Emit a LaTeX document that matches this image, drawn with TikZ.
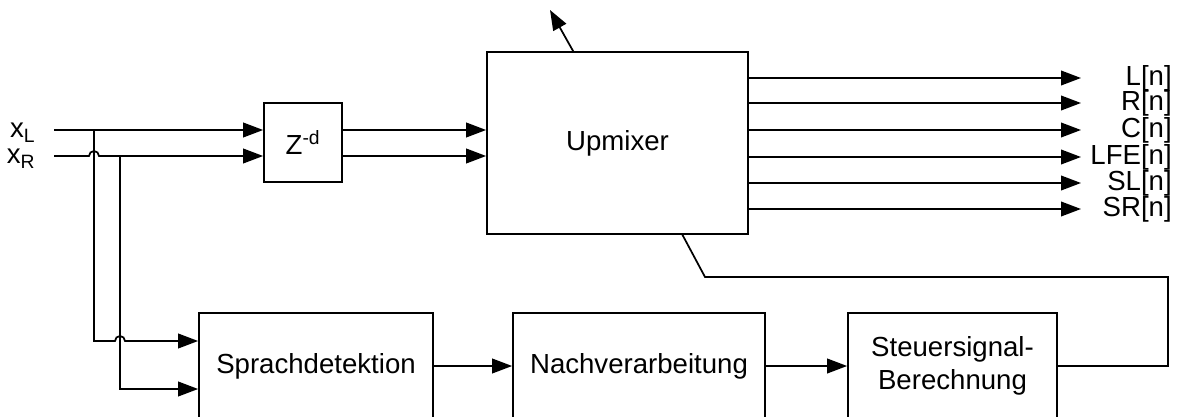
\documentclass[tikz,border=0pt]{standalone}
\usepackage{fontspec}
\setmainfont{Liberation Sans}
\usetikzlibrary{arrows.meta}

\tikzset{
  blk/.style={draw, line width=1.3pt, align=center, inner sep=0pt},
  sig/.style={line width=1.3pt, -{Triangle[length=15pt,width=11pt]}},
  wire/.style={line width=1.3pt},
  every node/.style={font=\fontsize{20.7}{24.8}\selectfont},
}

\begin{document}
\begin{tikzpicture}[x=0.75pt,y=0.75pt,yscale=-1,xscale=1]
\useasboundingbox (0,0) rectangle (1177,417);
\clip (0,0) rectangle (1177,417);

% Blocks
\node[blk, minimum width=58.5pt, minimum height=59.25pt] (delay) at (303,142.5) {Z\textsuperscript{-d}};
\node[blk, minimum width=195.75pt, minimum height=136.5pt] (upmix) at (617.5,143) {Upmixer};
\node[blk, minimum width=175.5pt, minimum height=79.5pt] (speech) at (316,366) {Sprachdetektion};
\node[blk, minimum width=189pt, minimum height=79.5pt] (post) at (639,366) {Nachverarbeitung};
\node[blk, minimum width=156.75pt, minimum height=79.5pt] (ctrl) at (952.5,366) {Steuersignal-\\Berechnung};

% Inputs
\node[anchor=base east] (labL) at (40,138) {x\textsubscript{L}};
\node[anchor=base east] (labR) at (40,164) {x\textsubscript{R}};
\coordinate (inL) at (54,130);
\coordinate (inR) at (54,156);
\coordinate (tapL) at (94,130);
\coordinate (tapR) at (120,156);
\coordinate (spL) at ([yshift=-18.75]speech.west);
\coordinate (spR) at ([yshift=17.25]speech.west);

\draw[sig] (inL) -- (inL -| delay.west);
\draw[sig] (inR) -- ++(35,0) arc (180:360:5) -- (inR -| delay.west);
\draw[sig] (tapL) -- (tapL |- spL) -- ++(21,0) arc (180:360:5) -- (spL);
\draw[sig] (tapR) |- (spR);

% Delay to upmixer
\draw[sig] (delay.east |- inL) -- (upmix.west |- inL);
\draw[sig] (delay.east |- inR) -- (upmix.west |- inR);

% Outputs
\foreach \y/\lab [count=\i] in {78/{L[n]}, 103/{R[n]}, 130/{C[n]}, 157/{LFE[n]}, 183/{SL[n]}, 209/{SR[n]}} {
  \node[anchor=east, inner sep=0pt] (out\i) at (1172,\y) {\lab};
  \coordinate (tip\i) at (1081,\y);
  \draw[sig] (upmix.east |- tip\i) -- (tip\i);
}

% Control output on top
\coordinate (ctl) at (550,10);
\draw[sig] (upmix.north west) ++(87,0) -- (ctl);

% Detection chain
\draw[sig] (speech) -- (post);
\draw[sig] (post) -- (ctrl);

% Feedback to upmixer
\coordinate (fbtop) at (1168,277);
\coordinate (fbknee) at (705,277);
\coordinate (fbend) at (682,234);
\draw[wire] (ctrl.east) -| (fbtop) -- (fbknee) -- (fbend);

\end{tikzpicture}
\end{document}
